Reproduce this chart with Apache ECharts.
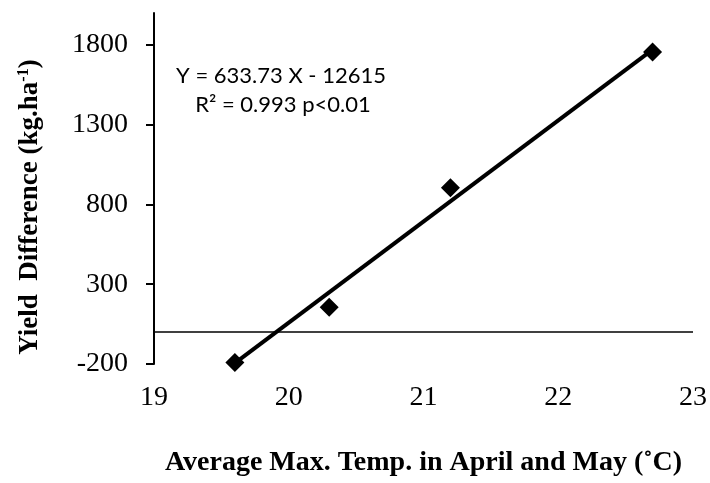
<!DOCTYPE html>
<html>
<head>
<meta charset="utf-8">
<script src="https://cdn.jsdelivr.net/npm/echarts@6/dist/echarts.min.js"></script>
<style>
  html, body { margin: 0; padding: 0; background: #fff; }
  #chart { width: 710px; height: 483px; }
</style>
</head>
<body>
<div id="chart"></div>
<script>
// observed points (avg max temp, yield difference)
const temps = [19.6, 20.3, 21.2, 22.7];
const yieldDiffs = [-190, 155, 905, 1755];

// regression shown on the chart
const slope = 633.73;
const intercept = -12615;
const trendX = [19.6, 22.7];

const yTicks = [-200, 300, 800, 1300, 1800];
const xTicks = [19, 20, 21, 22, 23];

const chart = echarts.init(document.getElementById('chart'));

const points = temps.map((t, i) => [t, yieldDiffs[i]]);
const trend = trendX.map((x) => [x, slope * x + intercept]);

const serif = '"Liberation Serif", "Times New Roman", serif';
const sans = 'Lato, "Open Sans", sans-serif';

const option = {
  animation: false,
  grid: {
    left: 154,
    right: 16,
    top: 13,
    bottom: 119,
  },
  xAxis: {
    type: 'value',
    min: 19,
    max: 23,
    interval: 1,
    axisLine: { show: false, onZero: false },
    axisTick: { show: false },
    splitLine: { show: false },
    axisLabel: {
      margin: 20,
      color: '#000',
      fontFamily: serif,
      fontSize: 28,
      customValues: xTicks,
    },
    name: 'Average Max. Temp. in April and May (˚C)',
    nameLocation: 'middle',
    nameGap: 85,
    nameTextStyle: {
      color: '#000',
      fontFamily: serif,
      fontWeight: 'bold',
      fontSize: 28,
    },
  },
  yAxis: {
    type: 'value',
    min: -200,
    max: 2000,
    interval: 500,
    axisLine: { show: true, lineStyle: { color: '#000', width: 2 } },
    axisTick: {
      show: true,
      length: 8,
      lineStyle: { color: '#000', width: 2 },
      customValues: yTicks,
    },
    splitLine: { show: false },
    axisLabel: {
      margin: 26,
      color: '#000',
      fontFamily: serif,
      fontSize: 28,
      customValues: yTicks,
      formatter: (v) => String(v),
    },
  },
  graphic: [
    {
      type: 'text',
      x: 30,
      y: 207,
      rotation: Math.PI / 2,
      style: {
        text: '{a|Yield  Difference (kg.ha}{s|-1}{a|)}',
        align: 'center',
        verticalAlign: 'middle',
        rich: {
          a: { fontFamily: serif, fontWeight: 'bold', fontSize: 27, fill: '#000', color: '#000' },
          s: { fontFamily: serif, fontWeight: 'bold', fontSize: 16, fill: '#000', color: '#000', verticalAlign: 'top', padding: [0, 0, 12, 0] },
        },
      },
    },
    {
      type: 'text',
      x: 281,
      y: 76,
      style: {
        text: 'Y = 633.73 X - 12615',
        align: 'center',
        verticalAlign: 'middle',
        font: '22px ' + sans,
        fill: '#000',
      },
    },
    {
      type: 'text',
      x: 283,
      y: 105,
      style: {
        text: 'R² = 0.993 p<0.01',
        align: 'center',
        verticalAlign: 'middle',
        font: '22px ' + sans,
        fill: '#000',
      },
    },
  ],
  series: [
    {
      name: 'trend',
      type: 'line',
      data: trend,
      showSymbol: false,
      symbol: 'none',
      lineStyle: { color: '#000', width: 4 },
      silent: true,
      z: 2,
      markLine: {
        silent: true,
        symbol: ['none', 'none'],
        label: { show: false },
        lineStyle: { color: '#000', width: 1.5, type: 'solid' },
        data: [{ yAxis: 0 }],
      },
    },
    {
      name: 'observed',
      type: 'scatter',
      data: points,
      symbol: 'diamond',
      symbolSize: 19,
      itemStyle: { color: '#000', opacity: 1 },
      z: 3,
    },
  ],
};

chart.setOption(option);
</script>
</body>
</html>
